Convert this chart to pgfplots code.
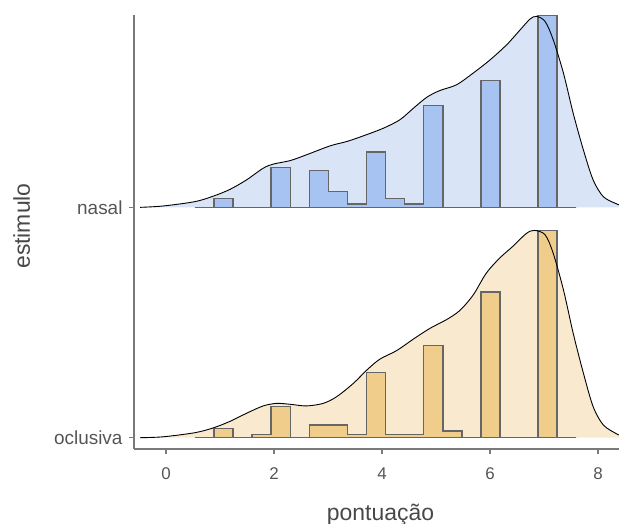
\documentclass[border=0pt]{standalone}
\usepackage{pgfplots}
\pgfplotsset{compat=1.18}
\usepackage{pgfplotstable}
\usepackage{fontspec}
\setmainfont{Liberation Sans}
\definecolor{nfill}{HTML}{D9E4F6}
\definecolor{nbar}{HTML}{A6C3F1}
\definecolor{ofill}{HTML}{F9E9CF}
\definecolor{obar}{HTML}{F0CD8B}
\definecolor{axgray}{HTML}{7A7A7A}
\definecolor{txtgray}{HTML}{555555}
\definecolor{outl}{HTML}{666666}

% density ridges: x, height above baseline
\pgfplotstableread{
x h
-0.48 0
-0.05 0.006
0.54 0.025
0.88 0.049
1.185 0.078
1.49 0.119
1.80 0.170
1.99 0.188
2.30 0.203
2.60 0.228
3.04 0.267
3.35 0.286
3.65 0.310
4.02 0.343
4.33 0.380
4.58 0.430
4.83 0.478
5.07 0.507
5.38 0.532
5.69 0.583
6.00 0.640
6.31 0.706
6.56 0.771
6.74 0.817
6.86 0.829
7.02 0.807
7.17 0.728
7.36 0.583
7.54 0.409
7.73 0.249
7.91 0.119
8.10 0.046
8.35 0.0145
8.39 0.012
}\nasaldens

\pgfplotstableread{
x h
-0.48 0
-0.05 0.004
0.54 0.022
0.88 0.043
1.185 0.071
1.49 0.106
1.80 0.138
2.05 0.149
2.30 0.145
2.60 0.138
2.91 0.149
3.16 0.178
3.47 0.236
3.72 0.294
3.96 0.341
4.27 0.378
4.58 0.428
4.89 0.475
5.19 0.512
5.44 0.552
5.69 0.620
5.93 0.714
6.18 0.780
6.42 0.830
6.67 0.886
6.82 0.900
7.02 0.881
7.17 0.801
7.36 0.642
7.54 0.454
7.73 0.280
7.91 0.135
8.10 0.055
8.35 0.016
8.39 0.013
}\oclusdens

% histogram binlines: left bin edge, height
\pgfplotstableread{
x h
0.536 0
0.889 0.038
1.242 0
1.595 0
1.948 0.174
2.301 0
2.654 0.159
3.007 0.068
3.360 0.0145
3.713 0.241
4.066 0.039
4.419 0.0145
4.772 0.442
5.125 0
5.478 0
5.831 0.551
6.184 0
6.537 0
6.890 0.832
7.243 0
7.596 0
}\nasalhist

\pgfplotstableread{
x h
0.536 0
0.889 0.041
1.242 0
1.595 0.0145
1.948 0.135
2.301 0
2.654 0.055
3.007 0.055
3.360 0.0145
3.713 0.283
4.066 0.0145
4.419 0.0145
4.772 0.401
5.125 0.029
5.478 0
5.831 0.633
6.184 0
6.537 0
6.890 0.900
7.243 0
7.596 0
}\oclushist

\begin{document}
\begin{tikzpicture}
\begin{axis}[name=ax,
  scale only axis, width=485bp, height=434bp,
  xmin=-0.593, xmax=8.389, ymin=0.951, ymax=2.835,
  axis x line*=bottom, axis y line*=left,
  axis line style={-, axgray, line width=1.4bp},
  xtick={0,2,4,6,8}, ytick={1,2}, yticklabels={oclusiva,nasal},
  tick align=outside, major tick length=5bp,
  tick style={axgray, line width=1.4bp},
  /pgf/number format/assume math mode=true,
  every tick label/.append style={text=txtgray, font=\fontsize{19}{19}\selectfont},
  xticklabel style={yshift=-10bp, font=\fontsize{17}{17}\selectfont},
  yticklabel style={xshift=-3bp},
  xlabel={pontuação}, ylabel={estimulo},
  label style={font=\fontsize{23}{23}\selectfont, text=txtgray!85!black},
  xlabel style={at={([xshift=4bp,yshift=-71bp]axis description cs:0.5,0)}, anchor=base},
  ylabel style={at={([xshift=-104bp,yshift=6bp]axis description cs:0,0.5)}, anchor=base},
]
% nasal ridge
\addplot[fill=nfill, draw=none, smooth, tension=0.5] table[x=x, y expr=\thisrow{h}+2] {\nasaldens} -- (axis cs:8.389,2) -- cycle;
\addplot[const plot, fill=nbar, draw=outl, line width=1.5bp] table[x=x, y expr=\thisrow{h}+2] {\nasalhist} -- cycle;
\addplot[black, line width=0.9bp, smooth, tension=0.5] table[x=x, y expr=\thisrow{h}+2] {\nasaldens};
% oclusiva ridge
\addplot[fill=ofill, draw=none, smooth, tension=0.5] table[x=x, y expr=\thisrow{h}+1] {\oclusdens} -- (axis cs:8.389,1) -- cycle;
\addplot[const plot, fill=obar, draw=outl, line width=1.5bp] table[x=x, y expr=\thisrow{h}+1] {\oclushist} -- cycle;
\addplot[black, line width=0.9bp, smooth, tension=0.5] table[x=x, y expr=\thisrow{h}+1] {\oclusdens};
\end{axis}
\pgfresetboundingbox
\path ([shift={(-134bp,-75bp)}]ax.south west) rectangle ([shift={(0bp,15bp)}]ax.north east);
\end{tikzpicture}
\end{document}
